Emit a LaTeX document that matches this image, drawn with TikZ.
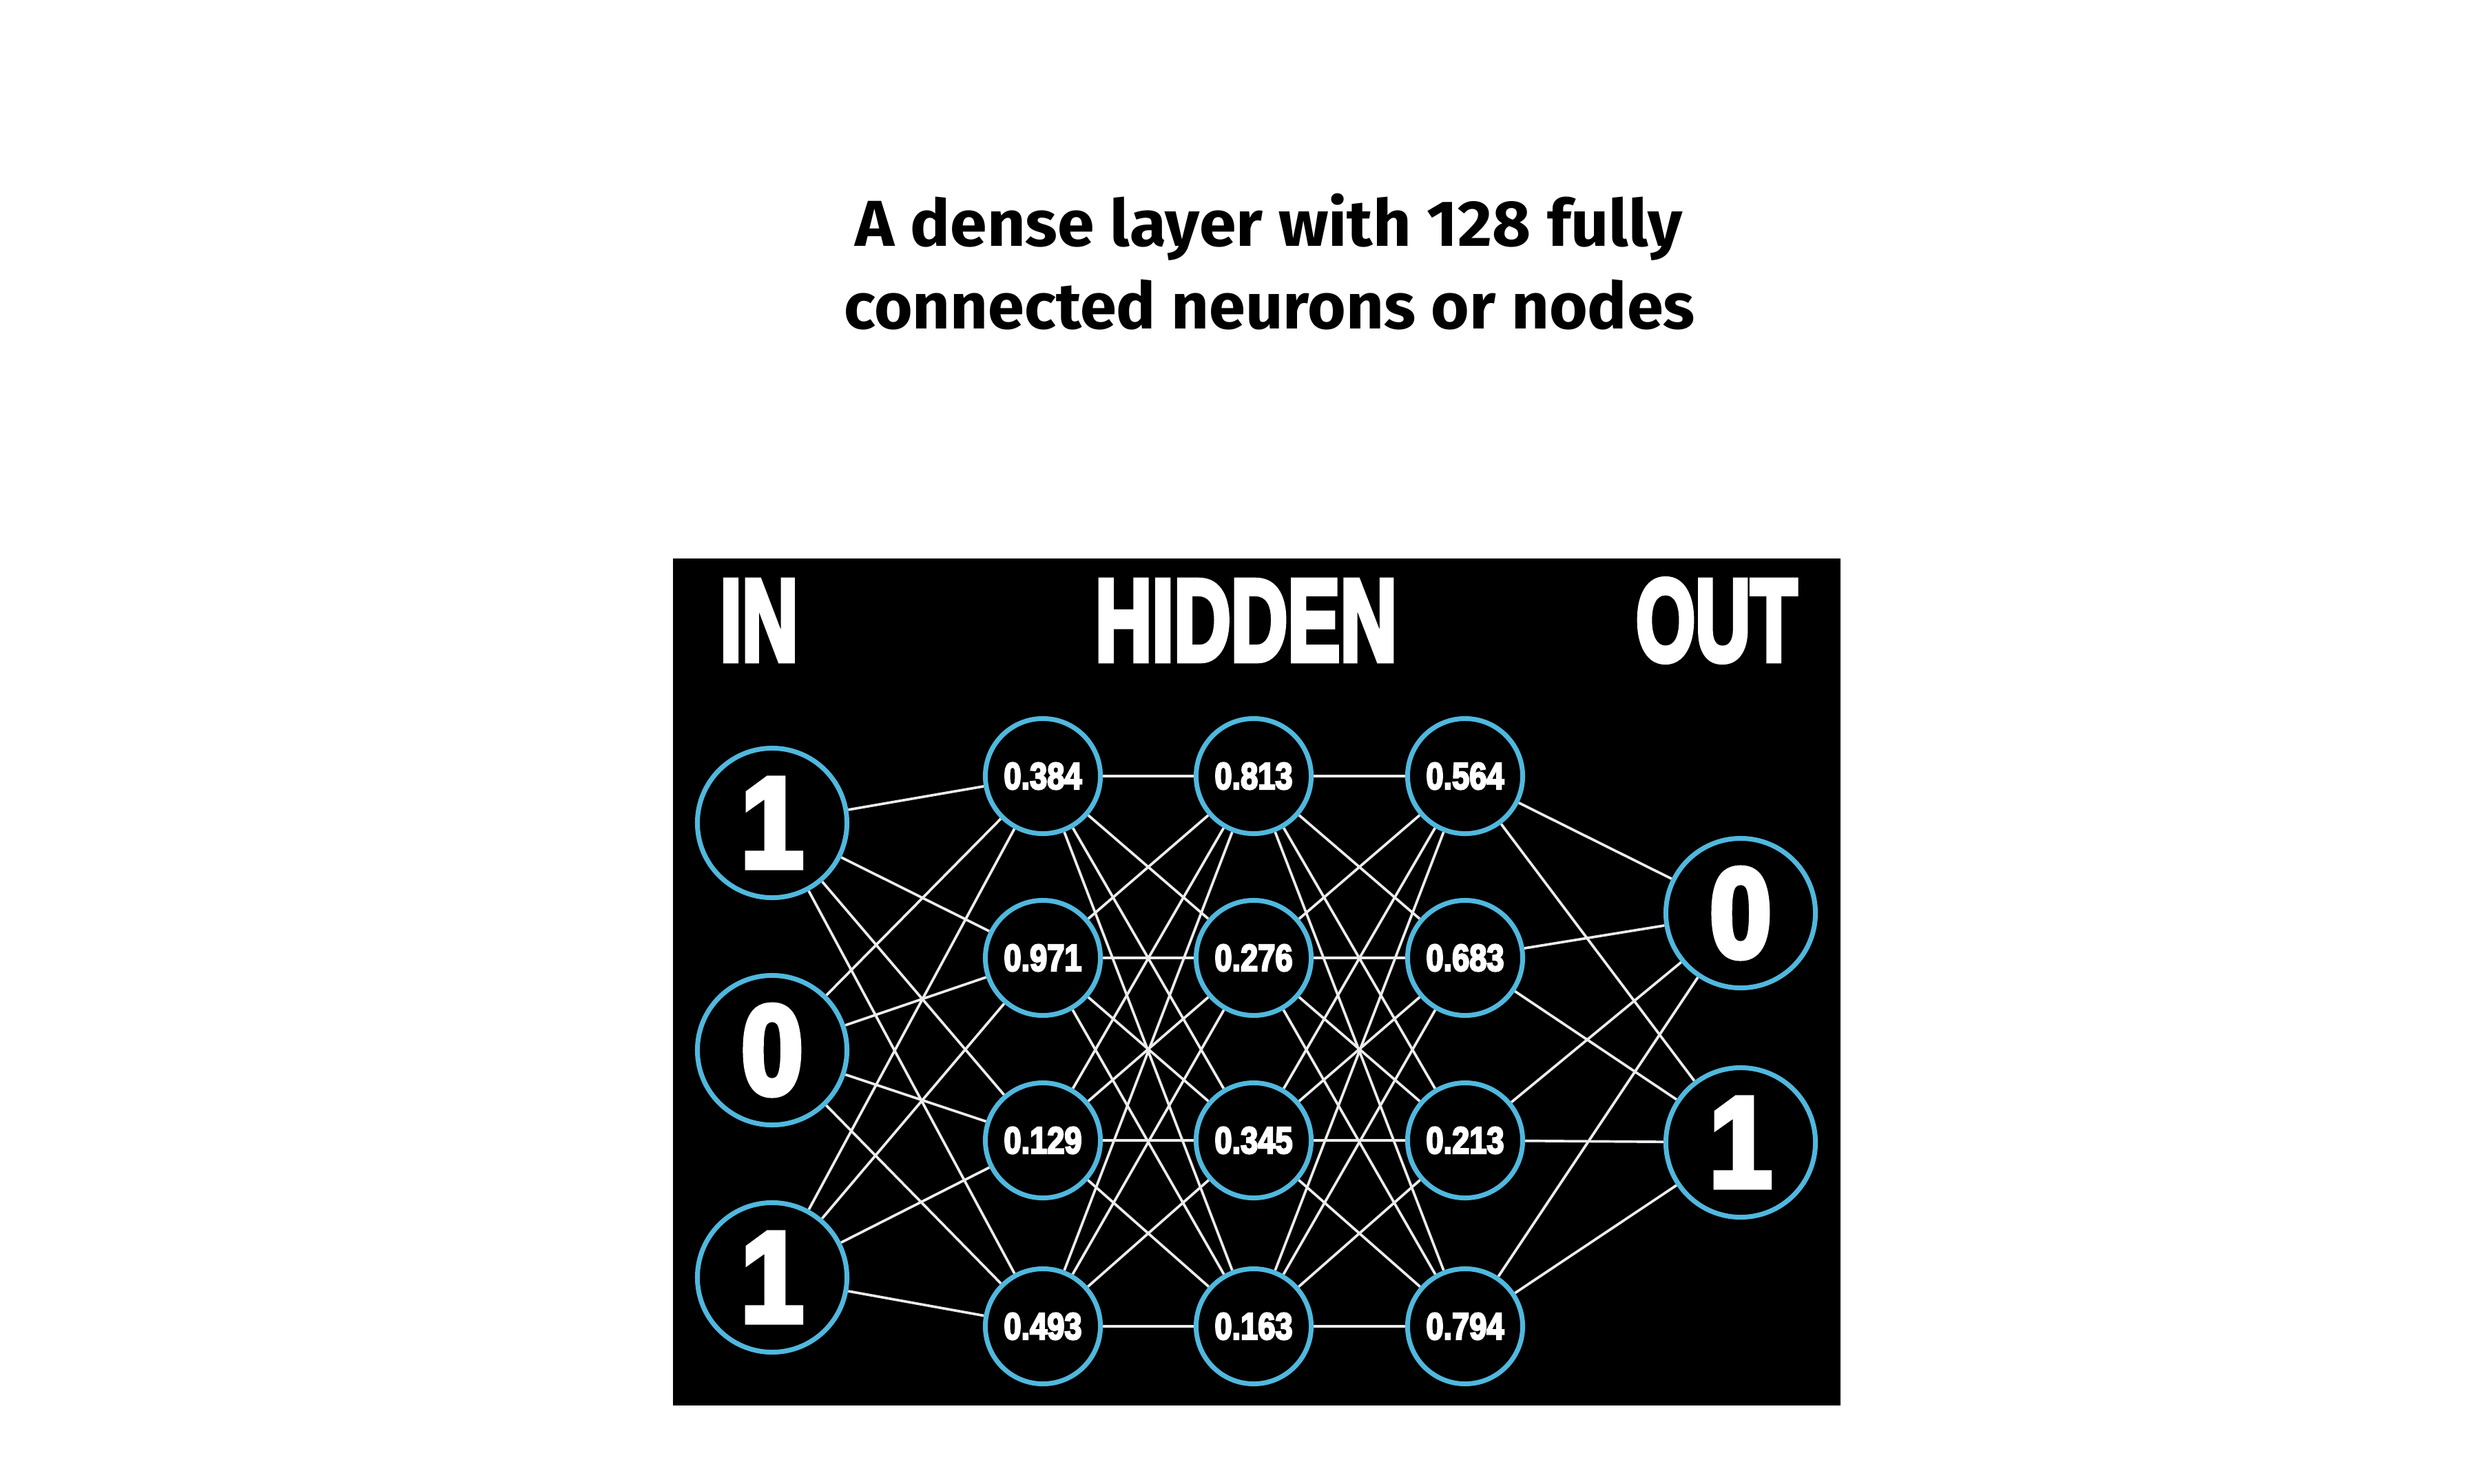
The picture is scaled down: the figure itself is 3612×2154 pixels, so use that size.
\documentclass[tikz,border=0pt]{standalone}
\usepackage{fontspec}
\setmainfont{Liberation Sans}
\newfontfamily\titlefont{Fira Sans}
\newfontfamily\heavyfont{Liberation Sans}[BoldFeatures={FakeBold=5}]
\usepackage{graphicx}
\pgfdeclarelayer{bg}
\pgfdeclarelayer{edges}
\pgfsetlayers{bg,edges,main}
\definecolor{ringblue}{RGB}{80,184,222}
\definecolor{edgewhite}{RGB}{236,236,236}
\newcommand\nnbig[1]{\scalebox{0.88}[1]{\resizebox{!}{1.28cm}{\heavyfont\bfseries #1}}}
\newcommand\nnsmall[1]{\scalebox{0.83}[1]{\resizebox{!}{0.38cm}{\heavyfont\bfseries #1}}}
\newcommand\ttltext[2]{\resizebox{#1}{\height}{\titlefont\bfseries\fontsize{26.8pt}{30pt}\selectfont #2}}
\begin{document}
\begin{tikzpicture}[x=0.01cm,y=-0.01cm,
  neuron/.style={circle,draw=ringblue,line width=0.07cm,fill=black,text=white,inner sep=0pt,minimum size=2.17cm},
  hneuron/.style={neuron,minimum size=1.67cm},
  link/.style={draw=edgewhite,line width=0.037cm},
  lab/.style={text=white,inner sep=0pt},
  ttl/.style={text=black,inner sep=0pt,anchor=base}]
\useasboundingbox (0,0) rectangle (3612,2154);
\begin{pgfonlayer}{bg}
  \fill[white] (0,0) rectangle (3612,2154);
  \fill[black] (977,811) rectangle (2672,2041);
\end{pgfonlayer}

% title
\node[ttl] (t1) at (1842,357) {\ttltext{12.00cm}{A dense layer with 128 fully}};
\node[ttl] (t2) at (1843,477) {\ttltext{12.35cm}{connected neurons or nodes}};

% layer labels
\node[lab] (lin) at (1102,901) {\resizebox{1.13cm}{1.16cm}{\heavyfont\bfseries IN}};
\node[lab] (lhid) at (1809,901) {\resizebox{4.38cm}{1.16cm}{\heavyfont\bfseries HIDDEN}};
\node[lab] (lout) at (2492,901) {\resizebox{2.34cm}{1.18cm}{\heavyfont\bfseries OUT}};

% input
\node[neuron] (i1) at (1121,1195) {\nnbig{1}};
\node[neuron] (i2) at (1121,1525) {\nnbig{0}};
\node[neuron] (i3) at (1121,1855) {\nnbig{1}};

% hidden 1
\node[hneuron] (h11) at (1514,1127) {\nnsmall{0.384}};
\node[hneuron] (h12) at (1514,1391) {\nnsmall{0.971}};
\node[hneuron] (h13) at (1514,1656) {\nnsmall{0.129}};
\node[hneuron] (h14) at (1514,1926) {\nnsmall{0.493}};
% hidden 2
\node[hneuron] (h21) at (1820,1127) {\nnsmall{0.813}};
\node[hneuron] (h22) at (1820,1391) {\nnsmall{0.276}};
\node[hneuron] (h23) at (1820,1656) {\nnsmall{0.345}};
\node[hneuron] (h24) at (1820,1926) {\nnsmall{0.163}};
% hidden 3
\node[hneuron] (h31) at (2127,1127) {\nnsmall{0.564}};
\node[hneuron] (h32) at (2127,1391) {\nnsmall{0.683}};
\node[hneuron] (h33) at (2127,1656) {\nnsmall{0.213}};
\node[hneuron] (h34) at (2127,1926) {\nnsmall{0.794}};

% output
\node[neuron] (o1) at (2527,1326) {\nnbig{0}};
\node[neuron] (o2) at (2527,1659) {\nnbig{1}};

\begin{pgfonlayer}{edges}
  \foreach \a in {i1,i2,i3}
    \foreach \b in {h11,h12,h13,h14}
      \draw[link] (\a) -- (\b);
  \foreach \a in {h11,h12,h13,h14}
    \foreach \b in {h21,h22,h23,h24}
      \draw[link] (\a) -- (\b);
  \foreach \a in {h21,h22,h23,h24}
    \foreach \b in {h31,h32,h33,h34}
      \draw[link] (\a) -- (\b);
  \foreach \a in {h31,h32,h33,h34}
    \foreach \b in {o1,o2}
      \draw[link] (\a) -- (\b);
\end{pgfonlayer}
\end{tikzpicture}
\end{document}
